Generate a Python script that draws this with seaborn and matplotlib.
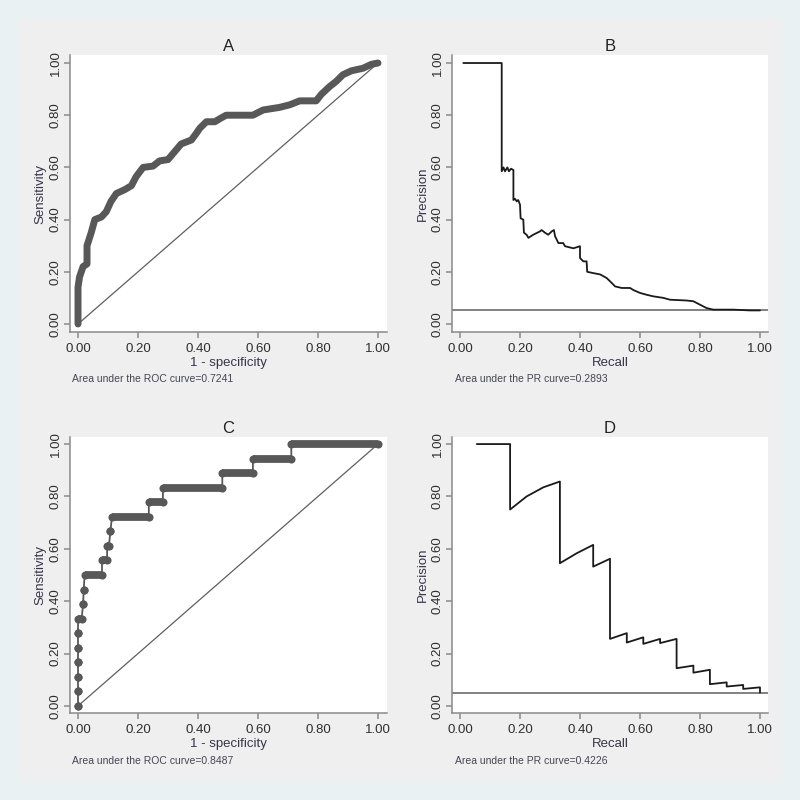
import matplotlib
matplotlib.use('Agg')
import matplotlib.pyplot as plt
import seaborn as sns
import numpy as np
from matplotlib.patches import Rectangle

# ---- data ----
# A: ROC curve (large sample)
roc_a_fpr = [0.0, 0.0, 0.005, 0.017, 0.03, 0.03, 0.044, 0.056, 0.078, 0.094, 0.11, 0.128,
             0.156, 0.178, 0.194, 0.217, 0.25, 0.272, 0.30, 0.322, 0.344, 0.378, 0.394,
             0.406, 0.428, 0.456, 0.478, 0.494, 0.583, 0.617, 0.672, 0.706, 0.739, 0.794,
             0.811, 0.839, 0.861, 0.883, 0.911, 0.95, 0.978, 1.0]
roc_a_tpr = [0.0, 0.14, 0.18, 0.22, 0.23, 0.30, 0.35, 0.40, 0.41, 0.43, 0.47, 0.50,
             0.515, 0.53, 0.565, 0.60, 0.605, 0.625, 0.63, 0.66, 0.69, 0.705, 0.73,
             0.75, 0.775, 0.775, 0.79, 0.80, 0.80, 0.82, 0.83, 0.84, 0.855, 0.855,
             0.88, 0.91, 0.93, 0.955, 0.97, 0.98, 0.995, 1.0]
auc_a = 0.7241

# B: PR curve (large sample)
pr_b_recall = [0.011, 0.139, 0.139, 0.145, 0.150, 0.158, 0.163, 0.170, 0.178, 0.178, 0.183,
               0.189, 0.194, 0.200, 0.202, 0.211, 0.213, 0.222, 0.228, 0.244, 0.267, 0.272,
               0.283, 0.294, 0.306, 0.313, 0.317, 0.328, 0.344, 0.350, 0.378, 0.400, 0.400,
               0.411, 0.422, 0.424, 0.444, 0.467, 0.489, 0.506, 0.517, 0.539, 0.567, 0.578,
               0.600, 0.622, 0.644, 0.678, 0.700, 0.756, 0.778, 0.800, 0.822, 0.844, 0.911,
               0.967, 1.0]
pr_b_prec = [1.0, 1.0, 0.585, 0.60, 0.585, 0.60, 0.585, 0.595, 0.59, 0.475, 0.48,
             0.47, 0.475, 0.457, 0.405, 0.40, 0.35, 0.342, 0.33, 0.342, 0.355, 0.36,
             0.35, 0.342, 0.355, 0.36, 0.336, 0.31, 0.31, 0.298, 0.29, 0.298, 0.253,
             0.24, 0.24, 0.20, 0.195, 0.19, 0.176, 0.157, 0.144, 0.138, 0.138, 0.13,
             0.119, 0.112, 0.106, 0.10, 0.093, 0.09, 0.087, 0.074, 0.061, 0.055, 0.055,
             0.052, 0.052]
base_b = 0.055
auc_b = 0.2893

# C: ROC curve (small sample, 18 positives) - horizontal runs per sensitivity level
roc_c_tpr = [0.0, 0.056, 0.111, 0.167, 0.222, 0.278, 0.333, 0.389, 0.444, 0.5, 0.556,
             0.611, 0.667, 0.722, 0.778, 0.833, 0.889, 0.944, 1.0]
roc_c_fpr_lo = [0.0, 0.0, 0.0, 0.0, 0.0, 0.0, 0.0, 0.017, 0.019, 0.022, 0.080, 0.097,
                0.108, 0.113, 0.236, 0.283, 0.481, 0.583, 0.711]
roc_c_fpr_hi = [0.0, 0.0, 0.0, 0.0, 0.0, 0.0, 0.012, 0.017, 0.019, 0.080, 0.097, 0.103,
                0.108, 0.236, 0.283, 0.481, 0.583, 0.711, 1.0]
auc_c = 0.8487

# D: PR curve (small sample)
pr_d_recall = [0.056, 0.167, 0.167, 0.222, 0.278, 0.333, 0.333, 0.389, 0.444, 0.444, 0.5,
               0.5, 0.556, 0.556, 0.611, 0.611, 0.667, 0.667, 0.722, 0.722, 0.778, 0.778,
               0.833, 0.833, 0.889, 0.889, 0.944, 0.944, 1.0, 1.0]
pr_d_prec = [1.0, 1.0, 0.75, 0.80, 0.835, 0.857, 0.545, 0.583, 0.615, 0.532, 0.562,
             0.256, 0.278, 0.242, 0.262, 0.237, 0.256, 0.24, 0.256, 0.144, 0.154, 0.127,
             0.138, 0.083, 0.09, 0.074, 0.08, 0.065, 0.071, 0.051]
base_d = 0.051
auc_d = 0.4226

ticks = [0.0, 0.2, 0.4, 0.6, 0.8, 1.0]

# ---- styling ----
sns.set_style('white')
plt.rcParams['font.family'] = ['Liberation Sans', 'DejaVu Sans']

OUTER = '#EAF1F3'
INNER = '#EFEFEF'
AXIS_GREY = '#8a8a8a'
TICK_TXT = '#2e2e2e'
LABEL_TXT = '#36344a'
ROC_GREY = '#585858'

fig = plt.figure(figsize=(8, 8), dpi=100, facecolor=OUTER)
bg = Rectangle((18 / 800, 18 / 800), 764 / 800, 764 / 800, transform=fig.transFigure,
               facecolor=INNER, edgecolor='none', zorder=-10)
fig.add_artist(bg)


def px_axes(x0, x1, y0, y1):
    # pixel box (top-left origin) -> figure fraction
    return fig.add_axes([x0 / 800, 1 - y1 / 800, (x1 - x0) / 800, (y1 - y0) / 800])


def style_axes(ax, title, xlabel, ylabel, ylim):
    ax.set_facecolor('white')
    ax.set_xlim(-0.0267, 1.03)
    ax.set_ylim(*ylim)
    ax.set_xticks(ticks)
    ax.set_yticks(ticks)
    ax.set_xticklabels([f'{t:.2f}' for t in ticks])
    ax.set_yticklabels([f'{t:.2f}' for t in ticks])
    for s in ['top', 'right']:
        ax.spines[s].set_visible(False)
    for s in ['left', 'bottom']:
        ax.spines[s].set_color(AXIS_GREY)
        ax.spines[s].set_linewidth(1.1)
    ax.tick_params(axis='both', direction='out', length=4, width=1.1, color=AXIS_GREY,
                   labelsize=9.5, labelcolor=TICK_TXT, left=True, bottom=True)
    ax.tick_params(axis='x', pad=4)
    ax.tick_params(axis='y', labelrotation=90, pad=2)
    plt.setp(ax.get_yticklabels(), va='center')
    ax.set_title(title, fontsize=12, color='#222222', pad=3)
    ax.set_xlabel(xlabel, fontsize=9.5, color=LABEL_TXT, labelpad=1.5)
    ax.set_ylabel(ylabel, fontsize=9.5, color=LABEL_TXT, labelpad=2)
    ax.grid(False)


ylim_top = (-0.0307, 1.0307)
ylim_bot = (-0.027, 1.027)

# ---- A ----
axA = px_axes(70, 387, 55, 332)
axA.plot([0, 1], [0, 1], color='#5f5f5f', lw=0.9, zorder=2)
sns.lineplot(x=roc_a_fpr, y=roc_a_tpr, ax=axA, sort=False, estimator=None,
             color=ROC_GREY, lw=5.0, solid_joinstyle='round', solid_capstyle='round', zorder=3)
style_axes(axA, 'A', '1 - specificity', 'Sensitivity', ylim_top)
fig.text(72 / 800, 1 - 379 / 800, f'Area under the ROC curve={auc_a:.4f}',
         fontsize=7.5, color='#454555', va='center', ha='left')

# ---- B ----
axB = px_axes(452, 768, 55, 332)
axB.axhline(base_b, color='#5f5f5f', lw=1.1, zorder=2)
sns.lineplot(x=pr_b_recall, y=pr_b_prec, ax=axB, sort=False, estimator=None,
             color='#1a1a1a', lw=1.3, zorder=3)
style_axes(axB, 'B', 'Recall', 'Precision', ylim_top)
axB.set_xlim(-0.0267, 1.0267)
fig.text(455 / 800, 1 - 379 / 800, f'Area under the PR curve={auc_b:.4f}',
         fontsize=7.5, color='#454555', va='center', ha='left')

# ---- C ----
axC = px_axes(70, 387, 437, 713)
axC.plot([0, 1], [0, 1], color='#5f5f5f', lw=0.9, zorder=2)
path_x, path_y = [], []
for lo, hi, t in zip(roc_c_fpr_lo, roc_c_fpr_hi, roc_c_tpr):
    path_x += [lo, hi]
    path_y += [t, t]
sns.lineplot(x=path_x, y=path_y, ax=axC, sort=False, estimator=None,
             color=ROC_GREY, lw=1.3, zorder=3)
axC.hlines(roc_c_tpr, roc_c_fpr_lo, roc_c_fpr_hi, color=ROC_GREY, lw=5.6, zorder=4)
sns.scatterplot(x=roc_c_fpr_lo + roc_c_fpr_hi, y=roc_c_tpr + roc_c_tpr, ax=axC,
                color=ROC_GREY, s=34, linewidth=0, zorder=5)
style_axes(axC, 'C', '1 - specificity', 'Sensitivity', ylim_bot)
fig.text(72 / 800, 1 - 761 / 800, f'Area under the ROC curve={auc_c:.4f}',
         fontsize=7.5, color='#454555', va='center', ha='left')

# ---- D ----
axD = px_axes(452, 768, 437, 713)
axD.axhline(base_d, color='#5f5f5f', lw=1.1, zorder=2)
sns.lineplot(x=pr_d_recall, y=pr_d_prec, ax=axD, sort=False, estimator=None,
             color='#1a1a1a', lw=1.3, zorder=3)
style_axes(axD, 'D', 'Recall', 'Precision', ylim_bot)
axD.set_xlim(-0.0267, 1.0267)
fig.text(455 / 800, 1 - 761 / 800, f'Area under the PR curve={auc_d:.4f}',
         fontsize=7.5, color='#454555', va='center', ha='left')

fig.savefig('out.png', dpi=100, facecolor=OUTER)
